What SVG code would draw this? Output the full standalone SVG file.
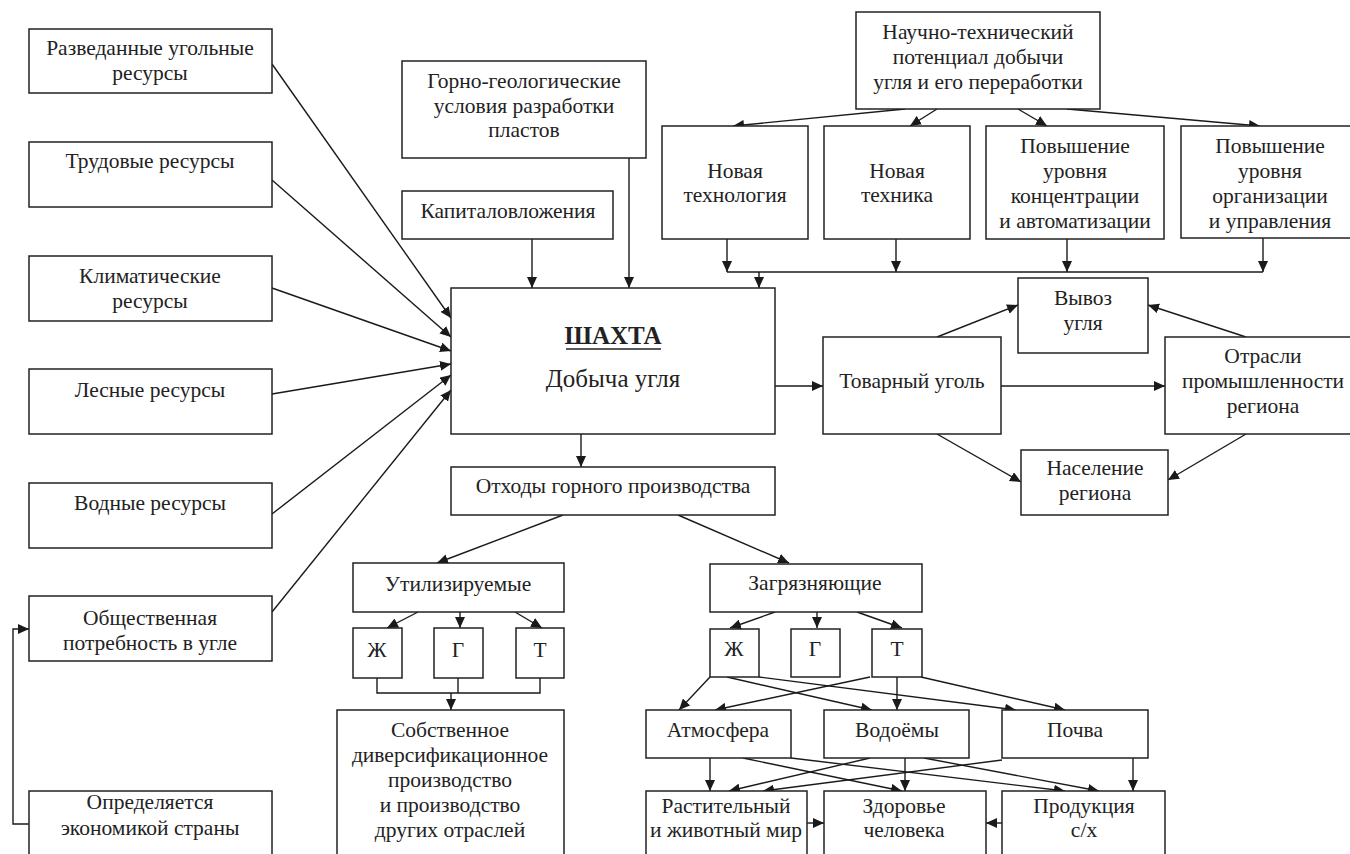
<svg xmlns="http://www.w3.org/2000/svg" width="1350" height="854" viewBox="0 0 1350 854">
<defs>
<marker id="ah" markerUnits="userSpaceOnUse" markerWidth="12" markerHeight="10" refX="11" refY="5" orient="auto"><path d="M0,0 L11,5 L0,10 z" fill="#1a1a1a"/></marker>
<style>
.b{fill:#fff;stroke:#222;stroke-width:1.5}
.t{font-size:21.5px;fill:#222;text-anchor:middle}
.big{font-size:25px;fill:#222;text-anchor:middle}
.c line,.c polyline{stroke:#1a1a1a;stroke-width:1.4;fill:none}
.a{marker-end:url(#ah)}
</style>
</defs>
<rect width="1350" height="854" fill="#fff"/>

<g class="c" id="connectors">
<line class="a" x1="272" y1="64" x2="451" y2="318"/>
<line class="a" x1="272" y1="180" x2="451" y2="337"/>
<line class="a" x1="272" y1="288" x2="451" y2="351"/>
<line class="a" x1="272" y1="394" x2="451" y2="364"/>
<line class="a" x1="272" y1="514" x2="451" y2="375"/>
<line class="a" x1="272" y1="612" x2="451" y2="390"/>
<polyline class="a" points="29,824 13,824 13,629 29,629"/>
<line class="a" x1="532" y1="239" x2="532" y2="288"/>
<line class="a" x1="629" y1="158" x2="629" y2="288"/>
<line class="a" x1="905" y1="109" x2="733" y2="126"/>
<line class="a" x1="937" y1="109" x2="910" y2="126"/>
<line class="a" x1="1018" y1="109" x2="1047" y2="126"/>
<line class="a" x1="1067" y1="109" x2="1260" y2="126"/>
<line class="a" x1="727" y1="239" x2="727" y2="272"/>
<line class="a" x1="896" y1="239" x2="896" y2="272"/>
<line class="a" x1="1067" y1="239" x2="1067" y2="272"/>
<line class="a" x1="1263" y1="238" x2="1263" y2="272"/>
<line x1="727" y1="272" x2="1263" y2="272"/>
<line class="a" x1="759" y1="272" x2="759" y2="288"/>
<line class="a" x1="775" y1="386" x2="823" y2="386"/>
<line class="a" x1="1001" y1="386" x2="1165" y2="386"/>
<line class="a" x1="937" y1="337" x2="1018" y2="305"/>
<line class="a" x1="1246" y1="337" x2="1148" y2="305"/>
<line class="a" x1="937" y1="434" x2="1021" y2="482"/>
<line class="a" x1="1246" y1="434" x2="1168" y2="480"/>
<line class="a" x1="581" y1="434" x2="581" y2="467"/>
<line class="a" x1="563" y1="515" x2="437" y2="563"/>
<line class="a" x1="678" y1="515" x2="789" y2="563"/>
<line class="a" x1="418" y1="612" x2="387" y2="628"/>
<line class="a" x1="460" y1="612" x2="460" y2="628"/>
<line class="a" x1="515" y1="612" x2="542" y2="628"/>
<polyline points="377,678 377,693 540,693 540,678"/>
<line x1="458" y1="678" x2="458" y2="693"/>
<line class="a" x1="451" y1="693" x2="451" y2="710"/>
<line class="a" x1="775" y1="612" x2="730" y2="628"/>
<line class="a" x1="817" y1="612" x2="817" y2="628"/>
<line class="a" x1="857" y1="612" x2="902" y2="628"/>
<line class="a" x1="710" y1="677" x2="679" y2="710"/>
<line class="a" x1="727" y1="677" x2="872" y2="710"/>
<line class="a" x1="759" y1="677" x2="1016" y2="710"/>
<line class="a" x1="870" y1="677" x2="715" y2="710"/>
<line class="a" x1="897" y1="677" x2="897" y2="710"/>
<line class="a" x1="921" y1="677" x2="1065" y2="710"/>
<line class="a" x1="710" y1="758" x2="710" y2="791"/>
<line class="a" x1="743" y1="758" x2="902" y2="791"/>
<line class="a" x1="791" y1="758" x2="1065" y2="791"/>
<line class="a" x1="870" y1="758" x2="729" y2="791"/>
<line class="a" x1="905" y1="758" x2="905" y2="791"/>
<line class="a" x1="924" y1="758" x2="1099" y2="791"/>
<line class="a" x1="1002" y1="760" x2="763" y2="791"/>
<line class="a" x1="1133" y1="758" x2="1133" y2="791"/>
<line class="a" x1="807" y1="823" x2="824" y2="823"/>
<line class="a" x1="1002" y1="823" x2="986" y2="823"/>
</g>

<g id="nodes" font-family="'Liberation Serif', 'Times New Roman', 'DejaVu Serif', serif">
<g id="n-razved"><rect class="b" x="29" y="29" width="243" height="64"/><text class="t" x="150" y="55">Разведанные угольные</text><text class="t" x="150" y="80">ресурсы</text></g>
<g id="n-trud"><rect class="b" x="29" y="142" width="243" height="65"/><text class="t" x="150" y="168">Трудовые ресурсы</text></g>
<g id="n-klim"><rect class="b" x="29" y="256" width="243" height="65"/><text class="t" x="150" y="283">Климатические</text><text class="t" x="150" y="308">ресурсы</text></g>
<g id="n-les"><rect class="b" x="29" y="369" width="243" height="65"/><text class="t" x="150" y="397">Лесные ресурсы</text></g>
<g id="n-vod"><rect class="b" x="29" y="483" width="243" height="65"/><text class="t" x="150" y="510">Водные ресурсы</text></g>
<g id="n-obsh"><rect class="b" x="29" y="596" width="243" height="65"/><text class="t" x="150" y="625">Общественная</text><text class="t" x="150" y="650">потребность в угле</text></g>
<g id="n-opred"><rect class="b" x="29" y="791" width="243" height="80"/><text class="t" x="150" y="809">Определяется</text><text class="t" x="150" y="835">экономикой страны</text></g>

<g id="n-gorno"><rect class="b" x="402" y="61" width="244" height="97"/><text class="t" x="524" y="88">Горно-геологические</text><text class="t" x="524" y="113">условия разработки</text><text class="t" x="524" y="137">пластов</text></g>
<g id="n-kapital"><rect class="b" x="402" y="191" width="211" height="48"/><text class="t" x="508" y="218">Капиталовложения</text></g>
<g id="n-nauch"><rect class="b" x="856" y="12" width="244" height="97"/><text class="t" x="978" y="39">Научно-технический</text><text class="t" x="978" y="64">потенциал добычи</text><text class="t" x="978" y="89">угля и его переработки</text></g>
<g id="n-ntech"><rect class="b" x="662" y="126" width="146" height="113"/><text class="t" x="735" y="178">Новая</text><text class="t" x="735" y="202">технология</text></g>
<g id="n-ntehn"><rect class="b" x="824" y="126" width="146" height="113"/><text class="t" x="897" y="178">Новая</text><text class="t" x="897" y="202">техника</text></g>
<g id="n-konc"><rect class="b" x="986" y="126" width="178" height="113"/><text class="t" x="1075" y="153">Повышение</text><text class="t" x="1075" y="178">уровня</text><text class="t" x="1075" y="203">концентрации</text><text class="t" x="1075" y="228">и автоматизации</text></g>
<g id="n-org"><rect class="b" x="1181" y="126" width="180" height="112"/><text class="t" x="1270" y="153">Повышение</text><text class="t" x="1270" y="178">уровня</text><text class="t" x="1270" y="203">организации</text><text class="t" x="1270" y="228">и управления</text></g>

<g id="n-shakhta"><rect class="b" x="451" y="288" width="324" height="146"/><text class="big" x="613" y="344" font-weight="bold">ШАХТА</text><line x1="566" y1="349" x2="661" y2="349" stroke="#222" stroke-width="1.6"/><text class="big" x="613" y="387">Добыча угля</text></g>
<g id="n-tovar"><rect class="b" x="823" y="337" width="178" height="97"/><text class="t" x="912" y="388">Товарный уголь</text></g>
<g id="n-vyvoz"><rect class="b" x="1018" y="278" width="130" height="75"/><text class="t" x="1083" y="305">Вывоз</text><text class="t" x="1083" y="330">угля</text></g>
<g id="n-otrasli"><rect class="b" x="1165" y="337" width="200" height="97"/><text class="t" x="1263" y="363">Отрасли</text><text class="t" x="1263" y="388">промышленности</text><text class="t" x="1263" y="413">региона</text></g>
<g id="n-nasel"><rect class="b" x="1021" y="450" width="147" height="65"/><text class="t" x="1095" y="475">Население</text><text class="t" x="1095" y="500">региона</text></g>

<g id="n-othody"><rect class="b" x="451" y="467" width="324" height="48"/><text class="t" x="613" y="493">Отходы горного производства</text></g>
<g id="n-util"><rect class="b" x="353" y="563" width="211" height="49"/><text class="t" x="458" y="591">Утилизируемые</text></g>
<g id="n-u-zh"><rect class="b" x="353" y="628" width="49" height="50"/><text class="t" x="377" y="657">Ж</text></g>
<g id="n-u-g"><rect class="b" x="434" y="628" width="49" height="50"/><text class="t" x="458" y="657">Г</text></g>
<g id="n-u-t"><rect class="b" x="516" y="628" width="48" height="50"/><text class="t" x="540" y="657">Т</text></g>
<g id="n-sobst"><rect class="b" x="337" y="710" width="227" height="160"/><text class="t" x="450" y="737">Собственное</text><text class="t" x="450" y="762">диверсификационное</text><text class="t" x="450" y="787">производство</text><text class="t" x="450" y="812">и производство</text><text class="t" x="450" y="837">других отраслей</text></g>

<g id="n-zagr"><rect class="b" x="710" y="564" width="212" height="48"/><text class="t" x="815" y="590">Загрязняющие</text></g>
<g id="n-z-zh"><rect class="b" x="710" y="629" width="49" height="48"/><text class="t" x="734" y="656">Ж</text></g>
<g id="n-z-g"><rect class="b" x="791" y="629" width="49" height="48"/><text class="t" x="815" y="656">Г</text></g>
<g id="n-z-t"><rect class="b" x="872" y="629" width="50" height="48"/><text class="t" x="897" y="656">Т</text></g>
<g id="n-atm"><rect class="b" x="646" y="710" width="145" height="48"/><text class="t" x="718" y="737">Атмосфера</text></g>
<g id="n-vodoem"><rect class="b" x="824" y="710" width="145" height="48"/><text class="t" x="897" y="737">Водоёмы</text></g>
<g id="n-pochva"><rect class="b" x="1002" y="710" width="146" height="48"/><text class="t" x="1075" y="737">Почва</text></g>
<g id="n-rast"><rect class="b" x="646" y="791" width="161" height="80"/><text class="t" x="726" y="813">Растительный</text><text class="t" x="726" y="837">и животный мир</text></g>
<g id="n-zdor"><rect class="b" x="824" y="791" width="162" height="80"/><text class="t" x="904" y="813">Здоровье</text><text class="t" x="904" y="837">человека</text></g>
<g id="n-prod"><rect class="b" x="1002" y="791" width="163" height="80"/><text class="t" x="1084" y="813">Продукция</text><text class="t" x="1084" y="837">с/х</text></g>
</g>
</svg>
